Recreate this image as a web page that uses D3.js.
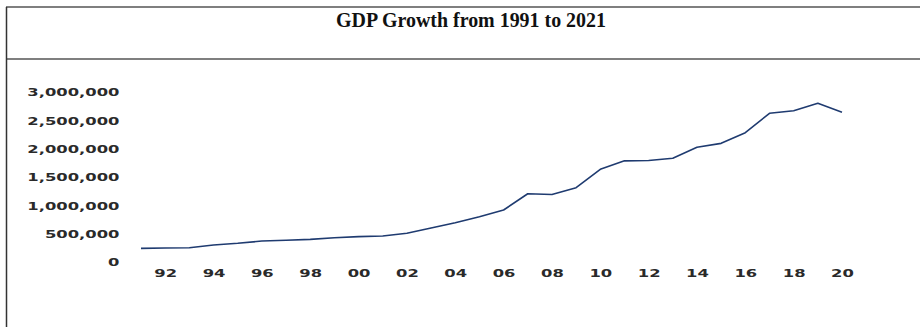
<!DOCTYPE html>
<html>
<head>
<meta charset="utf-8">
<script src="https://cdn.jsdelivr.net/npm/d3@7/dist/d3.min.js"></script>
<style>
  html, body { margin: 0; padding: 0; background: #fff; }
  svg { display: block; }
</style>
</head>
<body>
<svg id="chart" width="920" height="327"></svg>
<script>
const title = "GDP Growth from 1991 to 2021";
const years = [1991,1992,1993,1994,1995,1996,1997,1998,1999,2000,
               2001,2002,2003,2004,2005,2006,2007,2008,2009,2010,
               2011,2012,2013,2014,2015,2016,2017,2018,2019,2020];
const gdp = [240000,248000,252000,300000,330000,370000,385000,400000,429000,447000,
             460000,506000,600000,694000,800000,918000,1205000,1190000,1311000,1636000,
             1785000,1790000,1830000,2024000,2094000,2282000,2624000,2670000,2800000,2642000];
const yTicks = [0,500000,1000000,1500000,2000000,2500000,3000000];
const xTicks = [1992,1994,1996,1998,2000,2002,2004,2006,2008,2010,2012,2014,2016,2018,2020];

const svg = d3.select("#chart");

// frame lines
svg.append("line").attr("x1",6).attr("x2",920).attr("y1",7).attr("y2",7)
  .attr("stroke","#555").attr("stroke-width",1.5);
svg.append("line").attr("x1",6).attr("x2",920).attr("y1",59).attr("y2",59)
  .attr("stroke","#555").attr("stroke-width",1.5);
svg.append("line").attr("x1",6.5).attr("x2",6.5).attr("y1",7).attr("y2",327)
  .attr("stroke","#333").attr("stroke-width",1.5);

// title
svg.append("text").attr("x",471).attr("y",26.7)
  .attr("text-anchor","middle")
  .attr("font-family","'Liberation Serif', 'Times New Roman', serif")
  .attr("font-weight","bold").attr("font-size",20)
  .attr("textLength",270).attr("lengthAdjust","spacingAndGlyphs")
  .attr("fill","#111")
  .text(title);

const x = d3.scaleLinear().domain([1991,2020]).range([141,842]);
const y = d3.scaleLinear().domain([0,3000000]).range([262,92]);

const sx = 1.56;
// y axis
const yAxis = svg.append("g").attr("transform","translate(121,0)")
  .call(d3.axisLeft(y).tickValues(yTicks).tickSize(0).tickPadding(0)
        .tickFormat(d3.format(",")));
yAxis.select(".domain").remove();
yAxis.selectAll("text")
  .attr("font-family","'DejaVu Sans', sans-serif")
  .attr("font-weight","bold").attr("font-size",10.5)
  .attr("fill","#2a2a2a")
  .attr("x",-1).attr("dy","0.35em")
  .attr("transform",`scale(${sx},1)`);

// x axis
const xAxis = svg.append("g").attr("transform","translate(0,262)")
  .call(d3.axisBottom(x).tickValues(xTicks).tickSize(0).tickPadding(0)
        .tickFormat(d => String(d % 100).padStart(2,"0")));
xAxis.select(".domain").remove();
xAxis.selectAll("text")
  .attr("font-family","'DejaVu Sans', sans-serif")
  .attr("font-weight","bold").attr("font-size",10.5)
  .attr("fill","#2a2a2a")
  .attr("y",11.5).attr("dy","0.35em")
  .attr("transform",`scale(${sx},1)`)
  .attr("text-anchor","middle");

// line
const line = d3.line().x((d,i) => x(years[i])).y(d => y(d));
svg.append("path").datum(gdp)
  .attr("fill","none").attr("stroke","#1f3b70").attr("stroke-width",1.6)
  .attr("stroke-linejoin","round")
  .attr("d",line);
</script>
</body>
</html>
